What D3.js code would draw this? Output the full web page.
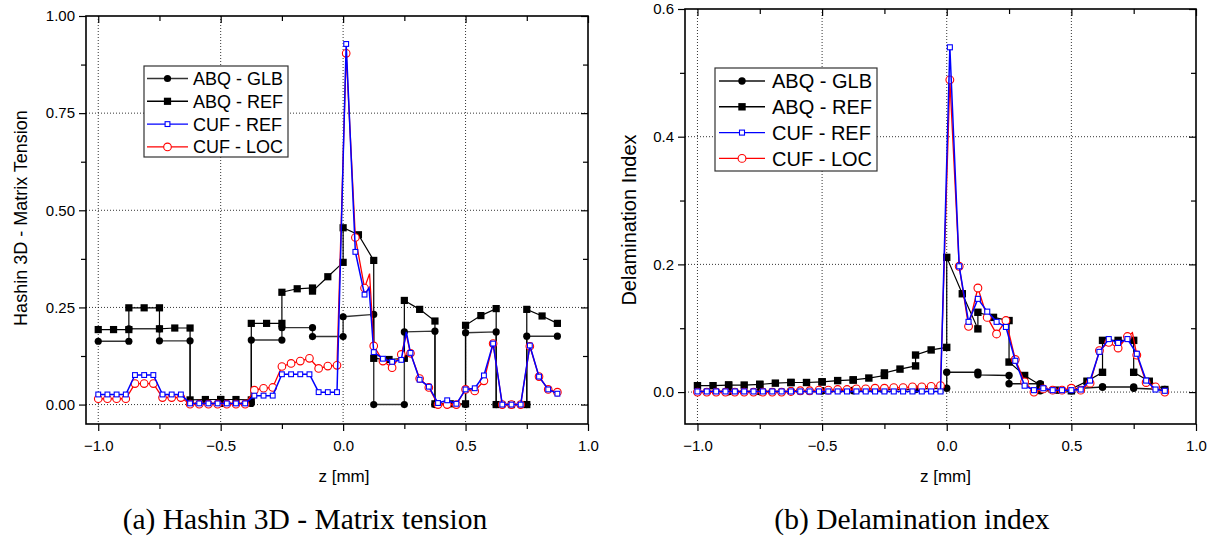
<!DOCTYPE html>
<html><head><meta charset="utf-8">
<script src="https://cdn.jsdelivr.net/npm/d3@7"></script>
<style>body{margin:0;background:#fff}svg{display:block}</style>
</head><body>
<svg id="c" width="1217" height="542"></svg>
<script>
// ---------- DATA ----------
const seriesNames = ["ABQ - GLB", "ABQ - REF", "CUF - REF", "CUF - LOC"];
const xTicks = [-1.0, -0.5, 0.0, 0.5, 1.0];
const xMinor = [-0.75, -0.25, 0.25, 0.75];

// ABQ global model: two points per layer
const zGlb = [-1,-0.875,-0.875,-0.75,-0.75,-0.625,-0.625,-0.5,-0.5,-0.375,-0.375,-0.25,-0.25,-0.125,-0.125,0,0,0.125,0.125,0.25,0.25,0.375,0.375,0.5,0.5,0.625,0.625,0.75,0.75,0.875];
// ABQ refined model: three points per layer
const zRef = [-1,-0.9375,-0.875,-0.875,-0.8125,-0.75,-0.75,-0.6875,-0.625,-0.625,-0.5625,-0.5,-0.5,-0.4375,-0.375,-0.375,-0.3125,-0.25,-0.25,-0.1875,-0.125,-0.125,-0.0625,0,0,0.0625,0.125,0.125,0.1875,0.25,0.25,0.3125,0.375,0.375,0.4375,0.5,0.5,0.5625,0.625,0.625,0.6875,0.75,0.75,0.8125,0.875];
// CUF evaluation points
const zCuf = [-1,-0.9625,-0.925,-0.8875,-0.85,-0.8125,-0.775,-0.7375,-0.7,-0.6625,-0.625,-0.5875,-0.55,-0.5125,-0.475,-0.4375,-0.4,-0.3625,-0.325,-0.2875,-0.25,-0.2125,-0.175,-0.1375,-0.1,-0.0625,-0.025,0.0125,0.05,0.0875,0.125,0.1625,0.2,0.2375,0.275,0.3125,0.35,0.3875,0.425,0.4625,0.5,0.5375,0.575,0.6125,0.65,0.6875,0.725,0.7625,0.8,0.8375,0.875];

// (a) Hashin 3D - Matrix tension
const aTicksY = [0.00, 0.25, 0.50, 0.75, 1.00];
const aMinorY = [0.125, 0.375, 0.625, 0.875];
const aGlb = [0.163,0.163,0.195,0.195,0.164,0.164,0.003,0.003,0.003,0.003,0.166,0.166,0.198,0.198,0.175,0.175,0.226,0.232,0.0,0.0,0.187,0.189,0.0,0.0,0.185,0.187,0.0,0.0,0.176,0.176];
const aRef = [0.193,0.193,0.193,0.249,0.249,0.249,0.195,0.197,0.197,0.012,0.013,0.013,0.013,0.013,0.012,0.209,0.209,0.209,0.289,0.298,0.300,0.292,0.329,0.366,0.455,0.437,0.371,0.119,0.116,0.119,0.268,0.245,0.215,0.002,0.002,0.002,0.204,0.229,0.247,0.0,0.0,0.0,0.245,0.228,0.209];
const aCufRef = [0.026,0.026,0.026,0.026,0.076,0.076,0.076,0.026,0.026,0.026,0.003,0.003,0.003,0.003,0.003,0.003,0.003,0.023,0.023,0.023,0.078,0.078,0.078,0.078,0.032,0.032,0.032,0.928,0.393,0.283,0.135,0.118,0.110,0.115,0.133,0.064,0.046,0.004,0.011,0.002,0.039,0.042,0.075,0.157,0.0,0.0,0.0,0.152,0.072,0.039,0.028];
const aCufLoc = [0.015,0.015,0.015,0.015,0.054,0.054,0.054,0.018,0.018,0.018,0.001,0.001,0.001,0.001,0.001,0.001,0.001,0.037,0.042,0.044,0.098,0.106,0.112,0.119,0.093,0.099,0.101,0.904,0.430,0.300,0.151,0.112,0.095,0.129,0.132,0.067,0.044,0.0,0.0,0.0,0.039,0.035,0.061,0.157,0.0,0.0,0.0,0.150,0.072,0.039,0.032];
// line vertices drawn without a marker (interface points)
const aCufRefKinkZ = [0.106, 0.258], aCufRefKinkV = [0.300, 0.187];
const aCufLocKinkZ = [0.108, 0.258], aCufLocKinkV = [0.337, 0.180];

// (b) Delamination index
const bTicksY = [0.0, 0.2, 0.4, 0.6];
const bMinorY = [0.1, 0.3, 0.5];
const bGlb = [0.001,0.001,0.001,0.001,0.001,0.001,0.002,0.002,0.002,0.002,0.003,0.003,0.004,0.004,0.005,0.006,0.031,0.031,0.027,0.026,0.013,0.013,0.002,0.002,0.005,0.008,0.008,0.008,0.006,0.004];
const bRef = [0.010,0.010,0.011,0.011,0.011,0.012,0.012,0.014,0.015,0.015,0.015,0.016,0.016,0.018,0.019,0.019,0.022,0.026,0.030,0.036,0.041,0.058,0.066,0.070,0.211,0.154,0.099,0.125,0.117,0.112,0.047,0.026,0.011,0.004,0.003,0.002,0.005,0.017,0.031,0.081,0.081,0.081,0.031,0.017,0.004];
const bCufRef = [0.001,0.001,0.001,0.001,0.001,0.001,0.001,0.001,0.001,0.001,0.001,0.001,0.001,0.001,0.001,0.001,0.001,0.001,0.001,0.001,0.001,0.001,0.001,0.001,0.001,0.001,0.001,0.540,0.197,0.110,0.146,0.126,0.110,0.102,0.049,0.010,0.003,0.006,0.003,0.003,0.003,0.004,0.018,0.063,0.083,0.077,0.083,0.060,0.018,0.004,0.002];
const bCufLoc = [0.0,0.0,0.0,0.0,0.0,0.0,0.0,0.0,0.0,0.0,0.001,0.002,0.002,0.003,0.003,0.004,0.004,0.005,0.005,0.006,0.006,0.007,0.007,0.008,0.008,0.009,0.010,0.489,0.197,0.103,0.163,0.117,0.091,0.112,0.051,0.016,0.0,0.005,0.003,0.003,0.006,0.003,0.014,0.065,0.078,0.069,0.087,0.058,0.015,0.008,0.0];
const bCufRefKinkZ = [], bCufRefKinkV = [];
const bCufLocKinkZ = [0.745], bCufLocKinkV = [0.093];

// ---------- DRAWING ----------
const svg = d3.select("#c");
const SANS = "'Liberation Sans', Arial, sans-serif";
const SERIF = "'Liberation Serif', 'Times New Roman', serif";

function pts(z, v){ return z.map((d,i)=>({z:d, v:v[i]})); }
function withKinks(z, v, kz, kv){
  return pts(z, v).concat(pts(kz, kv)).sort((a,b)=>a.z-b.z);
}

function drawChart(c){
  const g = svg.append("g");
  const x = d3.scaleLinear().domain([-1.05, 1.0]).range([c.left, c.right]);
  const y = d3.scaleLinear().domain(c.yDomain).range([c.bottom, c.top]);

  // grid
  const grid = g.append("g").attr("stroke","#000").attr("stroke-width",0.8).attr("stroke-dasharray","1,2");
  grid.selectAll("line.gx").data(xTicks.filter(d=>d<1)).join("line")
    .attr("x1",d=>x(d)).attr("x2",d=>x(d)).attr("y1",c.top).attr("y2",c.bottom);
  grid.selectAll("line.gy").data(c.ticksY.filter(d=>d<c.yDomain[1])).join("line")
    .attr("y1",d=>y(d)).attr("y2",d=>y(d)).attr("x1",c.left).attr("x2",c.right);

  // axes
  const fs = c.tickFont;
  const styleAxis = (sel)=>{ sel.select(".domain").remove(); sel.selectAll("line").attr("stroke","#000").attr("stroke-width",1.2);
    sel.selectAll("text").attr("font-family",SANS).attr("font-size",fs).attr("fill","#000"); };
  const fmtX = d3.format(".1f");
  g.append("g").attr("transform",`translate(0,${c.bottom})`)
    .call(d3.axisBottom(x).tickValues(xTicks).tickSize(7).tickPadding(9).tickFormat(fmtX)).call(styleAxis);
  g.append("g").attr("transform",`translate(0,${c.bottom})`)
    .call(d3.axisBottom(x).tickValues(xMinor).tickSize(5).tickFormat("")).call(styleAxis);
  g.append("g").attr("transform",`translate(0,${c.top})`)
    .call(d3.axisBottom(x).tickValues(xTicks).tickSize(7).tickFormat("")).call(styleAxis);
  g.append("g").attr("transform",`translate(0,${c.top})`)
    .call(d3.axisBottom(x).tickValues(xMinor).tickSize(5).tickFormat("")).call(styleAxis);
  g.append("g").attr("transform",`translate(${c.left},0)`)
    .call(d3.axisLeft(y).tickValues(c.ticksY).tickSize(7).tickPadding(4).tickFormat(d3.format(c.yFmt))).call(styleAxis);
  g.append("g").attr("transform",`translate(${c.left},0)`)
    .call(d3.axisLeft(y).tickValues(c.minorY).tickSize(5).tickFormat("")).call(styleAxis);
  g.append("g").attr("transform",`translate(${c.right},0)`)
    .call(d3.axisLeft(y).tickValues(c.ticksY).tickSize(7).tickFormat("")).call(styleAxis);
  g.append("g").attr("transform",`translate(${c.right},0)`)
    .call(d3.axisLeft(y).tickValues(c.minorY).tickSize(5).tickFormat("")).call(styleAxis);

  // frame
  g.append("rect").attr("x",c.left).attr("y",c.top).attr("width",c.right-c.left).attr("height",c.bottom-c.top)
    .attr("fill","none").attr("stroke","#000").attr("stroke-width",1.6);

  const line = d3.line().x(d=>x(d.z)).y(d=>y(d.v));
  const plot = g.append("g");

  // ABQ - GLB
  const glb = pts(zGlb, c.glb);
  plot.append("path").attr("d",line(glb)).attr("fill","none").attr("stroke",c.glbColor).attr("stroke-width",1.4);
  plot.append("g").selectAll("circle").data(glb).join("circle")
    .attr("cx",d=>x(d.z)).attr("cy",d=>y(d.v)).attr("r",c.mk).attr("fill","#000");
  // ABQ - REF
  const ref = pts(zRef, c.ref);
  plot.append("path").attr("d",line(ref)).attr("fill","none").attr("stroke","#000").attr("stroke-width",1.2);
  plot.append("g").selectAll("rect").data(ref).join("rect")
    .attr("x",d=>x(d.z)-c.mk).attr("y",d=>y(d.v)-c.mk).attr("width",2*c.mk).attr("height",2*c.mk).attr("fill","#000");
  // CUF - LOC
  const loc = pts(zCuf, c.loc);
  plot.append("path").attr("d",line(withKinks(zCuf,c.loc,c.locKz,c.locKv))).attr("fill","none").attr("stroke","#ff0000").attr("stroke-width",1.3);
  plot.append("g").selectAll("circle").data(loc).join("circle")
    .attr("cx",d=>x(d.z)).attr("cy",d=>y(d.v)).attr("r",c.mk+0.2).attr("fill","#fff").attr("stroke","#ff0000").attr("stroke-width",1.1);
  // CUF - REF
  const cref = pts(zCuf, c.cref);
  plot.append("path").attr("d",line(withKinks(zCuf,c.cref,c.crefKz,c.crefKv))).attr("fill","none").attr("stroke","#0000ff").attr("stroke-width",1.5);
  plot.append("g").selectAll("rect").data(cref).join("rect")
    .attr("x",d=>x(d.z)-c.sq).attr("y",d=>y(d.v)-c.sq).attr("width",2*c.sq).attr("height",2*c.sq)
    .attr("fill","#fff").attr("stroke","#0000ff").attr("stroke-width",1.1);

  // axis titles
  g.append("text").attr("x",(c.left+c.right)/2 + c.xTitleDx).attr("y",c.xTitleY).attr("text-anchor","middle")
    .attr("font-family",SANS).attr("font-size",c.xTitleFont).text("z [mm]");
  g.append("text").attr("transform",`translate(${c.yTitleX},${c.yTitleY}) rotate(-90)`).attr("text-anchor","middle")
    .attr("font-family",SANS).attr("font-size",c.yTitleFont).text(c.yTitle);

  // legend
  const L = c.legend;
  const lg = g.append("g");
  lg.append("rect").attr("x",L.x).attr("y",L.y).attr("width",L.w).attr("height",L.h)
    .attr("fill","#fff").attr("stroke","#333").attr("stroke-width",1.2);
  const legendStyle = [
    {color:c.glbColor, mark:"dot"}, {color:"#000", mark:"sq"}, {color:"#0000ff", mark:"osq"}, {color:"#ff0000", mark:"oc"}];
  seriesNames.forEach((name,i)=>{
    const yy = L.y + L.row0 + i*L.dy;
    const s = legendStyle[i];
    lg.append("line").attr("x1",L.x+L.l1).attr("x2",L.x+L.l2).attr("y1",yy).attr("y2",yy)
      .attr("stroke",s.color).attr("stroke-width",1.4);
    const mx = L.x + (L.l1+L.l2)/2;
    if (s.mark==="dot") lg.append("circle").attr("cx",mx).attr("cy",yy).attr("r",c.mk).attr("fill","#000");
    if (s.mark==="sq") lg.append("rect").attr("x",mx-c.mk).attr("y",yy-c.mk).attr("width",2*c.mk).attr("height",2*c.mk).attr("fill","#000");
    if (s.mark==="osq") lg.append("rect").attr("x",mx-c.sq).attr("y",yy-c.sq).attr("width",2*c.sq).attr("height",2*c.sq).attr("fill","#fff").attr("stroke","#0000ff").attr("stroke-width",1.1);
    if (s.mark==="oc") lg.append("circle").attr("cx",mx).attr("cy",yy).attr("r",c.mk+0.2).attr("fill","#fff").attr("stroke","#ff0000").attr("stroke-width",1.1);
    lg.append("text").attr("x",L.x+L.tx).attr("y",yy).attr("dy","0.36em")
      .attr("font-family",SANS).attr("font-size",L.fs).text(name);
  });

  // caption
  svg.append("text").attr("x",c.capX).attr("y",529).attr("text-anchor","middle")
    .attr("font-family",SERIF).attr("font-size",29.5).text(c.caption);
}

drawChart({
  left:86, right:588, top:16, bottom:424, yDomain:[-0.05,1.0],
  ticksY:aTicksY, minorY:aMinorY, yFmt:".2f", tickFont:15, xTitleFont:17, yTitleFont:18,
  glb:aGlb, ref:aRef, cref:aCufRef, loc:aCufLoc,
  crefKz:aCufRefKinkZ, crefKv:aCufRefKinkV, locKz:aCufLocKinkZ, locKv:aCufLocKinkV,
  glbColor:"#333", mk:3.6, sq:2.4,
  xTitleY:482, xTitleDx:7, yTitleX:27, yTitleY:218, yTitle:"Hashin 3D - Matrix Tension",
  legend:{x:144, y:66, w:144, h:91, row0:12.5, dy:22.8, l1:3, l2:44, tx:49, fs:18},
  capX:305, caption:"(a) Hashin 3D - Matrix tension"
});
drawChart({
  left:685, right:1196, top:9, bottom:424, yDomain:[-0.05,0.6],
  ticksY:bTicksY, minorY:bMinorY, yFmt:".1f", tickFont:15, xTitleFont:17, yTitleFont:20,
  glb:bGlb, ref:bRef, cref:bCufRef, loc:bCufLoc,
  crefKz:bCufRefKinkZ, crefKv:bCufRefKinkV, locKz:bCufLocKinkZ, locKv:bCufLocKinkV,
  glbColor:"#111", mk:3.7, sq:2.5,
  xTitleY:482, xTitleDx:5, yTitleX:636, yTitleY:220, yTitle:"Delamination Index",
  legend:{x:715, y:68, w:162, h:103, row0:13, dy:25.8, l1:4, l2:50, tx:57, fs:20},
  capX:912, caption:"(b) Delamination index"
});
</script>
</body></html>
